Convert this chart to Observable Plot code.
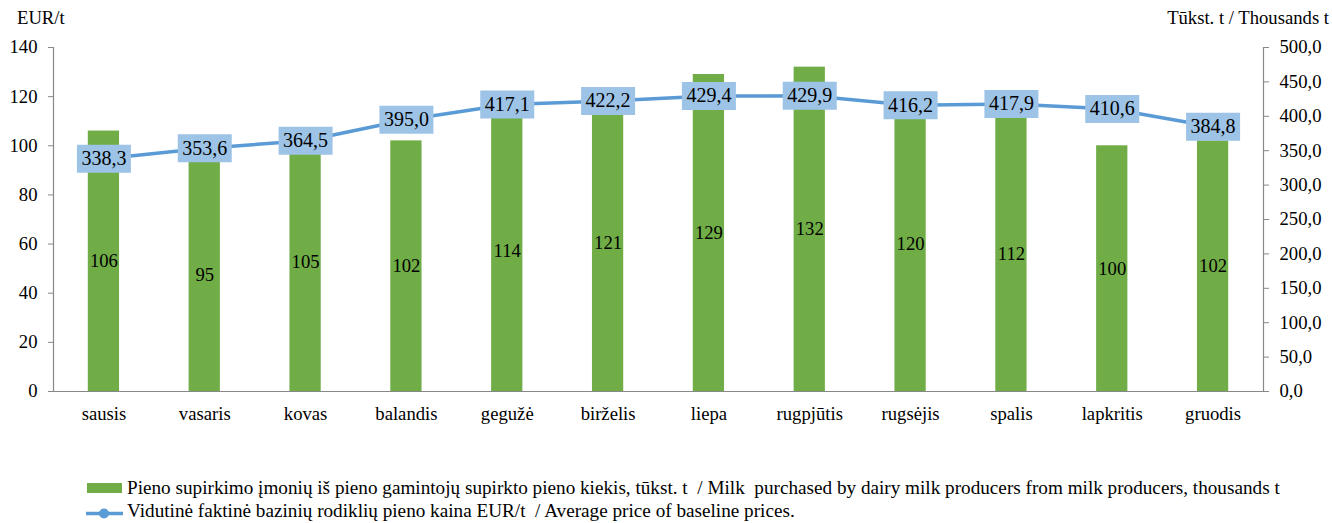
<!DOCTYPE html>
<html>
<head>
<meta charset="utf-8">
<script src="https://cdn.jsdelivr.net/npm/d3@7"></script>
<script src="https://cdn.jsdelivr.net/npm/@observablehq/plot@0.6"></script>
<style>
  body { margin: 0; background: #fff; }
  #wrap, #wrap * { font-family: 'Liberation Serif', 'Times New Roman', serif !important; }
  #wrap svg text { font-family: 'Liberation Serif', 'Times New Roman', serif !important; }
  #wrap { position: relative; width: 1332px; height: 523px; overflow: hidden; }
  #header { position: relative; height: 36px; font-size: 18.67px; }
  #header span { position: absolute; top: 7px; white-space: nowrap; }
  #legend { position: relative; font-size: 19.2px; color: #000; }
  .row { position: absolute; left: 0; height: 22px; width: 1332px; white-space: nowrap; }
  .row .txt { position: absolute; left: 127px; top: 0; line-height: 22px; }
</style>
</head>
<body>
<div id="wrap">
  <div id="header">
    <span style="left:17px">EUR/t</span>
    <span style="right:3px">Tūkst. t / Thousands t</span>
  </div>
  <div id="chart"></div>
  <div id="legend">
    <div class="row" style="top:41px">
      <svg width="127" height="22" style="position:absolute;left:0;top:0"><rect x="87" y="6" width="35" height="10" fill="#70AD47"></rect></svg>
      <span class="txt">Pieno supirkimo įmonių iš pieno gamintojų supirkto pieno kiekis, tūkst. t&nbsp; / Milk&nbsp; purchased by dairy milk producers from milk producers, thousands t</span>
    </div>
    <div class="row" style="top:63.5px">
      <svg width="127" height="22" style="position:absolute;left:0;top:0"><line x1="86" x2="123" y1="13.5" y2="13.5" stroke="#5B9BD5" stroke-width="3.5"></line><circle cx="104" cy="13.5" r="5" fill="#5B9BD5"></circle></svg>
      <span class="txt">Vidutinė faktinė bazinių rodiklių pieno kaina EUR/t&nbsp; / Average price of baseline prices.</span>
    </div>
  </div>
</div>
<script>
const months = ["sausis","vasaris","kovas","balandis","gegužė","birželis","liepa","rugpjūtis","rugsėjis","spalis","lapkritis","gruodis"];
const milk = [106, 95, 105, 102, 114, 121, 129, 132, 120, 112, 100, 102];
const price = [338.3, 353.6, 364.5, 395.0, 417.1, 422.2, 429.4, 429.9, 416.2, 417.9, 410.6, 384.8];
const leftTicks = [0, 20, 40, 60, 80, 100, 120, 140];
const rightTicks = [0, 50, 100, 150, 200, 250, 300, 350, 400, 450, 500];

const LEFT_MAX = 140, RIGHT_MAX = 500;
const toLeft = v => v * LEFT_MAX / RIGHT_MAX;
const fmt = v => v.toFixed(1).replace(".", ",");

const data = months.map((m, i) => ({month: m, milk: milk[i], price: price[i], priceL: toLeft(price[i])}));

const boxSymbol = { draw(ctx) { ctx.rect(-27, -14, 54, 28); } };
const serif = "'Liberation Serif', 'Times New Roman', serif";

const chart = Plot.plot({
  width: 1332,
  height: 400,
  marginTop: 11,
  marginBottom: 45,
  marginLeft: 53,
  marginRight: 69,
  style: { fontFamily: serif, fontSize: "18.67px", background: "white", overflow: "visible" },
  x: { domain: months, paddingInner: 0.69, paddingOuter: 0.345, round: false, label: null },
  y: { domain: [0, LEFT_MAX], label: null },
  marks: [
    Plot.barY(data, { x: "month", y: "milk", fill: "#70AD47", style: "filter: drop-shadow(1.5px 1px 1px rgba(0,0,0,0.22))" }),
    Plot.ruleY([0], { stroke: "#888", strokeWidth: 1.2 }),
    Plot.frame({ anchor: "left", stroke: "#888", strokeWidth: 1.2 }),
    Plot.frame({ anchor: "right", stroke: "#888", strokeWidth: 1.2 }),
    Plot.axisY({ ticks: leftTicks, tickSize: 5, tickPadding: 11, stroke: "#888", fill: "black", label: null, fontFamily: serif, fontSize: "18.67px" }),
    Plot.axisY({ anchor: "right", ticks: rightTicks.map(toLeft), tickFormat: d => fmt(Math.round(d * RIGHT_MAX / LEFT_MAX)), tickSize: 5, tickPadding: 11, stroke: "#888", fill: "black", label: null, fontFamily: serif, fontSize: "18.67px" }),
    Plot.axisX({ tickSize: 0, tickPadding: 15, fill: "black", label: null, fontFamily: serif, fontSize: "18.67px" }),
    Plot.text(data, { x: "month", y: d => d.milk / 2, text: d => String(d.milk), fill: "black", fontFamily: serif, fontSize: "18.67px" }),
    Plot.line(data, { x: "month", y: "priceL", stroke: "#5B9BD5", strokeWidth: 3.5, curve: "linear", style: "filter: drop-shadow(1px 2px 1.5px rgba(0,0,0,0.3))" }),
    Plot.dot(data, { x: "month", y: "priceL", symbol: boxSymbol, fill: "#9DC3E6", stroke: "none", r: 10 }),
    Plot.text(data, { x: "month", y: "priceL", text: d => fmt(d.price), fill: "black", fontFamily: serif, fontSize: "20px" })
  ]
});
document.getElementById("chart").appendChild(chart);
</script>
</body>
</html>
